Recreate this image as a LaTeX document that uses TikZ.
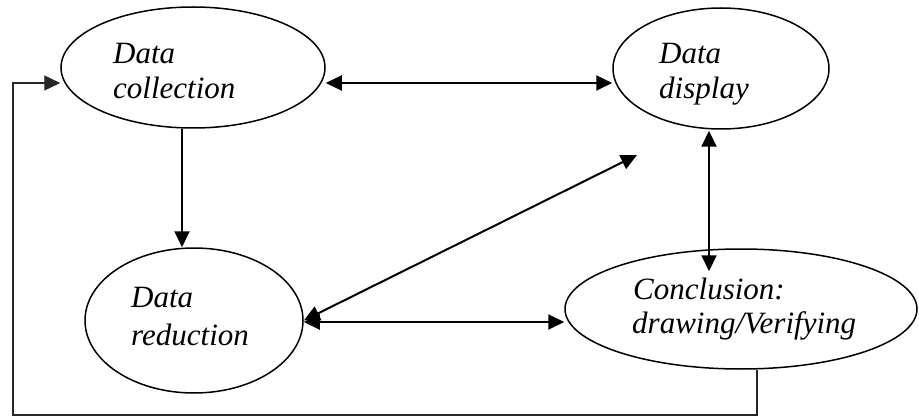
\documentclass[tikz,border=0pt]{standalone}
\usepackage{fontspec}
\setmainfont{Liberation Serif}
\usetikzlibrary{shapes.geometric,arrows.meta}
\tikzset{
  bubble/.style={draw=black, ellipse, line width=1.5pt, inner sep=0pt},
  txt/.style={anchor=base west, inner sep=0pt, font=\fontsize{31}{36}\selectfont\itshape},
  conn/.style={line width=2pt, {Triangle[length=16pt,width=15pt]}-{Triangle[length=16pt,width=15pt]}},
  oneway/.style={line width=2pt, -{Triangle[length=16pt,width=15pt]}},
  loopline/.style={line width=1.3pt, draw=black!85, -{Triangle[length=16pt,width=15pt]}}
}
\begin{document}
\begin{tikzpicture}[x=1pt,y=-1pt]
\useasboundingbox (0,0) rectangle (919,417);
% ellipses
\node[bubble, minimum width=264pt, minimum height=121pt] (e1) at (193,67.5) {};
\node[bubble, minimum width=216pt, minimum height=121pt] (e2) at (721,68.5) {};
\node[bubble, minimum width=218pt, minimum height=145pt] (e3) at (194,320.5) {};
\node[bubble, minimum width=352pt, minimum height=120pt] (e4) at (741,309) {};
% texts
\node[txt] (t1a) at (113,64) {Data};
\node[txt] (t1b) at (113,99) {collection};
\node[txt] (t2a) at (659,64) {Data};
\node[txt] (t2b) at (659,99) {display};
\node[txt] (t3a) at (131,307) {Data};
\node[txt] (t3b) at (131,345) {reduction};
\node[txt] (t4a) at (633,299) {Conclusion:};
\node[txt] (t4b) at (632,333) {drawing/Verifying};
% connectors
\draw[conn] ([yshift=-15.5pt]e1.east) -- ([yshift=-14.5pt]e2.west);
\draw[oneway] ([xshift=-11pt]e1.south) -- ([xshift=-12pt]e3.north);
\coordinate (dg) at (637,155);
\draw[conn] (e3.east) -- (dg);
\draw[conn] ([yshift=-1.5pt]e3.east) -- ([yshift=-13pt]e4.west);
\draw[conn] ([xshift=-12pt,yshift=-1pt]e2.south) -- ([xshift=-32pt,yshift=-23pt]e4.north);
\coordinate (fb) at (13,415);
\draw[loopline] ([xshift=16pt]e4.south) |- (fb) |- ([yshift=-15.5pt]e1.west);
\end{tikzpicture}
\end{document}
